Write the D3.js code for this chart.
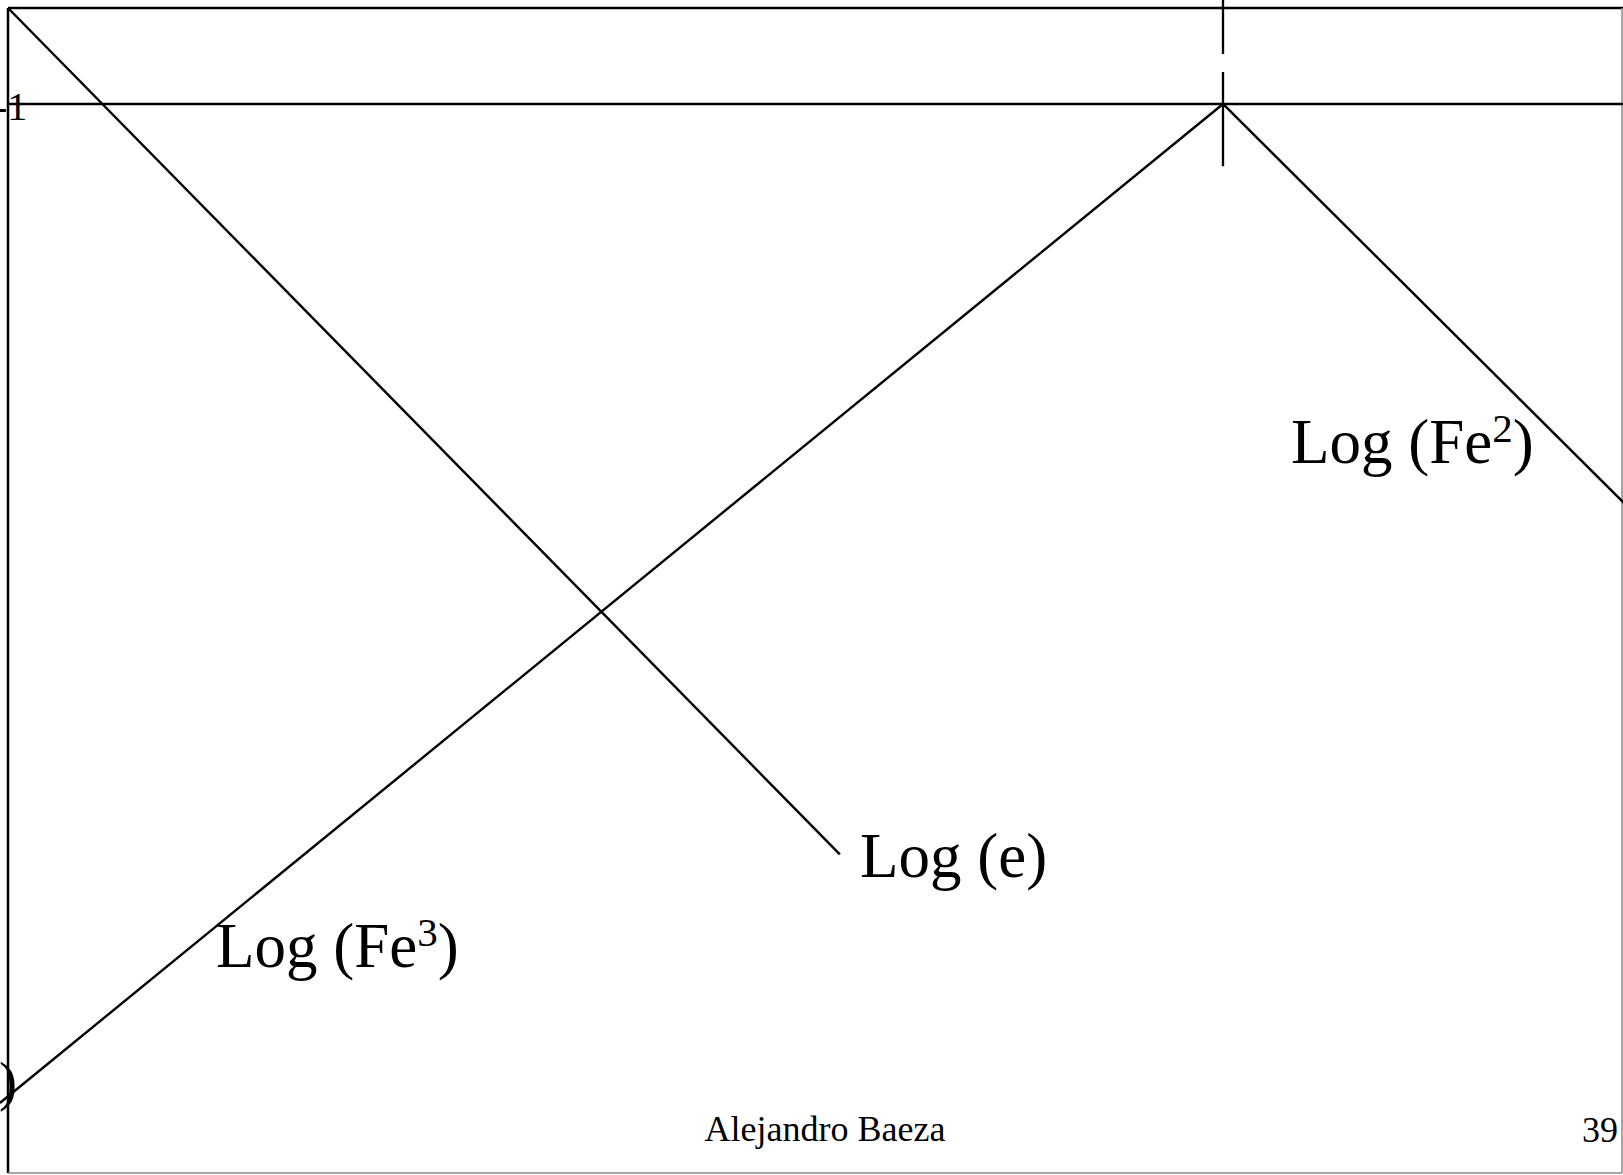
<!DOCTYPE html>
<html>
<head>
    <script src="https://d3js.org/d3.v7.min.js"></script>
    <style>
        body { margin: 0; background: #fff; }
        svg { display: block; }
        text { font-family: "Liberation Serif", "Times New Roman", serif; fill: #000; }
    </style>
</head>
<body>
    <svg width="1623" height="1175"></svg>
    <script>
        // pe (x) vs log concentration (y)
        const logE = [[0, 0], [10.27, -8.82]];
        const logFe3 = [[-0.1, -11.41], [15, -1]];
        const logFe2 = [[15, -1], [20, -5.2]];
        const refLevel = -1;
        const pe0 = 15;
        const yTickLabel = "-1";

        const width = 1623, height = 1175;
        const padLeft = 8, padTop = 8, frameRight = 1622, frameBottom = 1173;

        const svg = d3.select("svg");

        const x = d3.scaleLinear().domain([0, 20]).range([padLeft, padLeft + 1620]);
        const y = d3.scaleLinear().domain([0, -12.14]).range([padTop, frameBottom]);

        const line = d3.line().x(d => x(d[0])).y(d => y(d[1]));

        svg.append("clipPath").attr("id", "clip")
            .append("rect").attr("x", 0).attr("y", 0).attr("width", width).attr("height", height);

        // frame
        svg.append("line").attr("x1", padLeft).attr("x2", width).attr("y1", padTop).attr("y2", padTop)
            .attr("stroke", "#000").attr("stroke-width", 2.5);
        svg.append("line").attr("x1", padLeft).attr("x2", padLeft).attr("y1", padTop).attr("y2", frameBottom)
            .attr("stroke", "#000").attr("stroke-width", 2.5);
        svg.append("line").attr("x1", frameRight).attr("x2", frameRight).attr("y1", padTop).attr("y2", frameBottom)
            .attr("stroke", "#888").attr("stroke-width", 1.5);
        svg.append("line").attr("x1", padLeft).attr("x2", frameRight).attr("y1", frameBottom).attr("y2", frameBottom)
            .attr("stroke", "#888").attr("stroke-width", 1.5);

        // reference level log C = -1
        svg.append("line")
            .attr("x1", x(0)).attr("x2", width)
            .attr("y1", y(refLevel)).attr("y2", y(refLevel))
            .attr("stroke", "#000").attr("stroke-width", 2.6);

        // vertical marker at pe0
        svg.append("line")
            .attr("x1", x(pe0)).attr("x2", x(pe0))
            .attr("y1", 0).attr("y2", y(-1.65))
            .attr("stroke", "#000").attr("stroke-width", 2.3)
            .attr("stroke-dasharray", "54,18,200");

        const g = svg.append("g").attr("clip-path", "url(#clip)");
        [logE, logFe3, logFe2].forEach(d => {
            g.append("path").attr("d", line(d))
                .attr("fill", "none").attr("stroke", "#000").attr("stroke-width", 2.4);
        });

        // y label
        svg.append("text").attr("x", -6).attr("y", y(refLevel) + 16)
            .style("font-size", "40px").text(yTickLabel);

        // clipped leftover label at bottom-left
        svg.append("text").attr("x", 17).attr("y", 1100)
            .attr("text-anchor", "end").style("font-size", "54px").text(")");

        function label(tx, ty, main, sup) {
            const t = svg.append("text").attr("x", tx).attr("y", ty).style("font-size", "63px");
            t.append("tspan").text(main);
            if (sup) {
                t.append("tspan").attr("dy", -21).style("font-size", "41px").text(sup);
                t.append("tspan").attr("dy", 21).text(")");
            }
        }
        label(1291, 463, "Log (Fe", "2");
        label(860, 877, "Log (e)");
        label(216, 967, "Log (Fe", "3");

        svg.append("text").attr("x", 825).attr("y", 1141)
            .attr("text-anchor", "middle").style("font-size", "36px").text("Alejandro Baeza");
        svg.append("text").attr("x", 1618).attr("y", 1142)
            .attr("text-anchor", "end").style("font-size", "36px").text("39");
    </script>
</body>
</html>
